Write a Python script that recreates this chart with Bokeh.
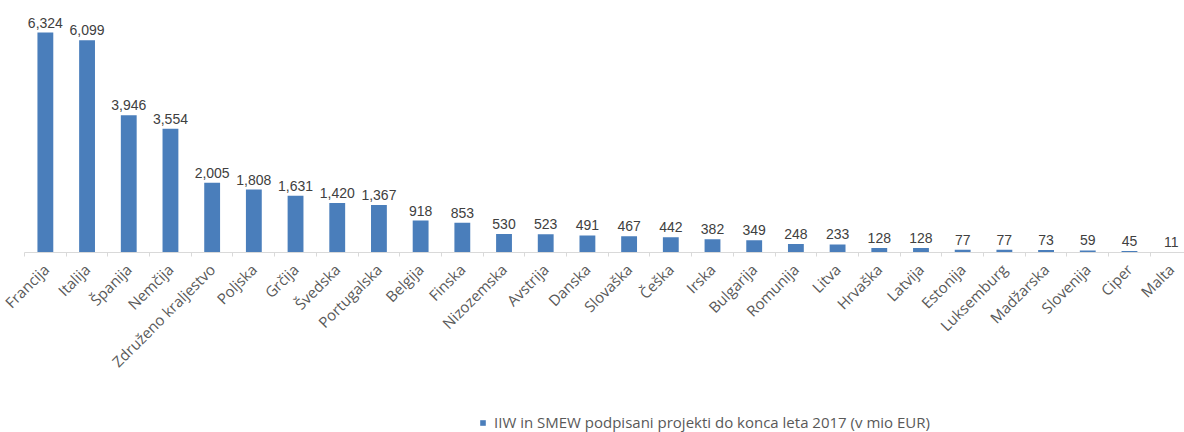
import math
from bokeh.plotting import figure
from bokeh.core.properties import value
from bokeh.models import (ColumnDataSource, Range1d, FixedTicker, LabelSet,
                          Legend, LegendItem)
from bokeh.embed import file_html
from bokeh.resources import INLINE

# IIW and SMEW signed projects by end of 2017 (EUR million)
countries = ["Francija", "Italija", "Španija", "Nemčija", "Združeno kraljestvo",
             "Poljska", "Grčija", "Švedska", "Portugalska", "Belgija", "Finska",
             "Nizozemska", "Avstrija", "Danska", "Slovaška", "Češka", "Irska",
             "Bulgarija", "Romunija", "Litva", "Hrvaška", "Latvija", "Estonija",
             "Luksemburg", "Madžarska", "Slovenija", "Ciper", "Malta"]
amounts = [6324, 6099, 3946, 3554, 2005, 1808, 1631, 1420, 1367, 918, 853,
           530, 523, 491, 467, 442, 382, 349, 248, 233, 128, 128, 77, 77,
           73, 59, 45, 11]
series_name = "IIW in SMEW podpisani projekti do konca leta 2017 (v mio EUR)"

BAR_COLOR = "#4a7ebb"

xs = [i + 0.5 for i in range(len(countries))]
source = ColumnDataSource(dict(
    x=xs,
    amount=amounts,
    label=[f"{v:,}" for v in amounts],
))

# The frame spans the whole canvas; the category axis sits at zero inside it,
# leaving room underneath for the slanted country names and the legend.
p = figure(width=1184, height=432, output_backend="svg", toolbar_location=None,
           x_range=Range1d(-0.576, 27.82), y_range=Range1d(-5174, 7244),
           min_border_left=0, min_border_right=0, min_border_top=0,
           min_border_bottom=0)
p.outline_line_color = None
p.grid.grid_line_color = None
p.yaxis.visible = False

bars = p.vbar(x="x", top="amount", width=0.38, source=source,
              color=BAR_COLOR, line_color=None)

labels = LabelSet(x="x", y="amount", text="label", source=source,
                  text_align="center", text_baseline="bottom", y_offset=5,
                  text_font=value("Liberation Sans"), text_font_size="14px",
                  text_color="#404040")
p.add_layout(labels)

ax = p.xaxis[0]
ax.fixed_location = 0
ax.bounds = (0, len(countries))
ax.ticker = FixedTicker(ticks=xs, minor_ticks=list(range(len(countries) + 1)))
ax.major_label_overrides = {x: c for x, c in zip(xs, countries)}
ax.major_label_orientation = math.pi / 4
ax.major_label_text_font = "Open Sans"
ax.major_label_text_font_size = "15px"
ax.major_label_text_color = "#595959"
ax.major_label_standoff = 8
ax.axis_line_color = "#d9d9d9"
ax.major_tick_line_color = None
ax.minor_tick_line_color = "#d9d9d9"
ax.minor_tick_out = 4
ax.minor_tick_in = 0

legend = Legend(items=[LegendItem(label=series_name, renderers=[bars])],
                orientation="horizontal", location=(479, 0),
                glyph_width=7, glyph_height=7, label_standoff=8,
                label_text_font="Open Sans",
                label_text_font_size="15px", label_text_color="#595959",
                border_line_color=None, background_fill_alpha=0,
                margin=0, padding=1, spacing=6)
p.add_layout(legend)

open("out.html", "w").write(file_html(p, INLINE))
